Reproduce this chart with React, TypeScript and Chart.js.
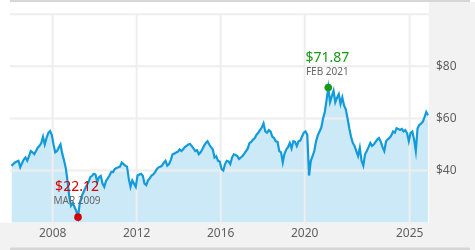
import { useEffect, useRef } from "react";
import { Chart, registerables } from "chart.js";

Chart.register(...registerables);

// ---- data ----
const startYear = 2006; // first month: Jan 2006
const monthlyClose: number[] = [
  41.8, 42.5, 43.1, 43.5, 43.8, 41.3, 42.8, 44.2, 45, 43.8, 45.5, 47.5, // 2006
  47, 46.3, 47.5, 48.8, 49.5, 50.6, 53, 50, 52.5, 54.4, 55.2, 53.7, // 2007
  50, 47, 47.5, 48.8, 50, 46.5, 44, 41, 36, 30, 26.5, 27.5, // 2008
  26, 24.5, 22.12, 27.5, 30, 31.5, 33, 34.4, 35.5, 37.5, 38, 38.75, // 2009
  38.5, 35.6, 37.5, 38, 35, 33.75, 36, 37, 38.1, 39.5, 39.4, 40.6, // 2010
  41, 41.3, 41.5, 43.1, 42.5, 41.9, 41.5, 36.9, 33.75, 36.25, 35, 33.75, // 2011
  38.1, 38.5, 38.75, 38, 35, 34.4, 36.25, 37, 38.1, 38.5, 39.4, 40.5, // 2012
  41.25, 41.5, 41.9, 43, 43.75, 41.9, 42.5, 44, 46.25, 46.5, 46.9, 47.2, // 2013
  48.1, 47.5, 48.1, 49, 49.5, 50, 50.2, 49.4, 48.5, 47.5, 47.8, 46.25, // 2014
  47, 48.1, 49.5, 50.6, 51.25, 50, 49, 48.1, 45, 45.5, 43.75, 43.5, // 2015
  40.6, 40, 42.5, 43.75, 43.5, 42.5, 45, 46.25, 46, 45.6, 44.4, 45, // 2016
  45.6, 46.5, 47.5, 48.5, 50.6, 51, 51.9, 52.5, 53.75, 54.5, 55.6, 56.5, // 2017
  58.1, 55, 54.5, 55.5, 55, 53, 52.5, 51.25, 51, 47.5, 47, 43.1, // 2018
  46.5, 48.1, 49, 50.6, 48.5, 51.25, 51, 49.4, 51.25, 51.5, 53.1, 54.5, // 2019
  55, 53.75, 38.1, 43.75, 45.5, 47.5, 51.25, 53.5, 55, 56.5, 60, 62.5, // 2020
  67, 71.87, 66.25, 68.5, 70.6, 66.25, 68, 69.4, 65.6, 68.1, 65, 63.5, // 2021
  60, 56.25, 53, 50.6, 49.4, 47.5, 45.6, 48.75, 43.75, 41.9, 46.25, 47.5, // 2022
  49, 50.6, 49.5, 50, 51, 51.9, 52.5, 51, 49, 47.5, 51.25, 52, // 2023
  52.5, 53.5, 55, 54.5, 56.25, 56, 55.6, 56, 55, 55.5, 54.4, 51.25, // 2024
  54.4, 55, 52, 47.5, 56.25, 57.5, 58, 58.75, 60.5, 62.5, 61.25, // 2025
];

const xTickYears = [2008, 2012, 2016, 2020, 2025];
const yTickValues = [40, 60, 80];
const yGridValues = [40, 60, 80, 100];

const markerYears = [2009, 2021];
const markerMonths = [3, 2]; // 1-based
const markerValues = [22.12, 71.87];
const markerPriceLabels = ["$22.12", "$71.87"];
const markerDateLabels = ["MAR 2009", "FEB 2021"];
const markerColors = ["#d40000", "#169a16"];

const FONT = '"Noto Sans", "DejaVu Sans", sans-serif';
const W = 475;
const H = 250;

export default function App() {
  const ref = useRef<HTMLCanvasElement>(null);

  useEffect(() => {
    if (!ref.current) return;
    const points = monthlyClose.map((v, i) => ({ x: startYear + (i + 0.5) / 12, y: v }));
    const markers = markerValues.map((v, i) => ({
      x: markerYears[i] + (markerMonths[i] - 0.5) / 12,
      y: v,
    }));

    const bgPlugin = {
      id: "bgPanels",
      beforeDraw(chart: any) {
        const ctx = chart.ctx;
        const a = chart.chartArea;
        ctx.save();
        ctx.fillStyle = "#ffffff";
        ctx.fillRect(0, 0, W, H);
        ctx.fillStyle = "#f2f2f2";
        ctx.fillRect(a.right, 2, W - a.right, H - 2);
        ctx.fillRect(0, a.bottom, W, H - a.bottom);
        ctx.fillStyle = "#d6d6d6";
        ctx.fillRect(10, 0, 460, 2);
        ctx.fillRect(10, 247.5, 460, 2.5);
        ctx.restore();
      },
    };

    const gridPlugin = {
      id: "gridOverFill",
      afterDatasetDraw(chart: any, args: any) {
        if (args.index !== 0) return;
        const ctx = chart.ctx;
        const a = chart.chartArea;
        const xs = chart.scales.x;
        const ys = chart.scales.y;
        ctx.save();
        ctx.strokeStyle = "#eeeeee";
        ctx.lineWidth = 2;
        ctx.beginPath();
        yGridValues.forEach((v) => {
          const py = ys.getPixelForValue(v);
          ctx.moveTo(a.left, py);
          ctx.lineTo(a.right, py);
        });
        xTickYears.forEach((v) => {
          const px = xs.getPixelForValue(v);
          ctx.moveTo(px, a.top);
          ctx.lineTo(px, a.bottom);
        });
        ctx.stroke();
        ctx.restore();
      },
    };

    const labelPlugin = {
      id: "markerLabels",
      afterDraw(chart: any) {
        const ctx = chart.ctx;
        const xs = chart.scales.x;
        const ys = chart.scales.y;
        ctx.save();
        ctx.textAlign = "center";
        ctx.textBaseline = "alphabetic";
        markers.forEach((m, i) => {
          const px = xs.getPixelForValue(m.x) - 1;
          const py = ys.getPixelForValue(m.y);
          ctx.font = `14px ${FONT}`;
          ctx.fillStyle = markerColors[i];
          ctx.fillText(markerPriceLabels[i], px, py - 26);
          ctx.font = `10px ${FONT}`;
          ctx.fillStyle = "#666666";
          ctx.fillText(markerDateLabels[i], px, py - 13);
        });
        ctx.restore();
      },
    };

    const chart = new Chart(ref.current, {
      type: "line",
      data: {
        datasets: [
          {
            data: points,
            borderWidth: 0,
            borderColor: "rgba(0,0,0,0)",
            backgroundColor: "#cce9f7",
            fill: "start",
            pointRadius: 0,
            tension: 0,
            order: 3,
          },
          {
            data: points,
            borderWidth: 2.2,
            borderColor: "#129bdb",
            fill: false,
            pointRadius: 0,
            tension: 0,
            order: 2,
          },
          {
            type: "scatter",
            data: markers,
            pointRadius: 3.8,
            pointBorderWidth: 0,
            pointBackgroundColor: markerColors,
            backgroundColor: markerColors,
            order: 1,
          } as any,
        ],
      },
      options: {
        responsive: false,
        animation: false,
        events: [],
        layout: { padding: { left: 10, top: 10, right: 0, bottom: 0 } },
        plugins: { legend: { display: false }, tooltip: { enabled: false } },
        scales: {
          x: {
            type: "linear",
            min: 2005.97,
            max: 2025.92,
            grid: { display: false, drawTicks: false },
            border: { display: false },
            afterBuildTicks: (s: any) => {
              s.ticks = xTickYears.map((v) => ({ value: v }));
            },
            afterFit: (s: any) => {
              s.height = 27.3;
            },
            ticks: {
              autoSkip: false,
              maxRotation: 0,
              padding: 4,
              color: "#5f5f5f",
              font: { family: FONT, size: 12 },
              callback: (v: any) => String(v),
            },
          },
          y: {
            position: "right",
            min: 20,
            max: 100,
            grid: { display: false, drawTicks: false },
            border: { display: false },
            afterBuildTicks: (s: any) => {
              s.ticks = yTickValues.map((v) => ({ value: v }));
            },
            afterFit: (s: any) => {
              s.width = 46;
            },
            ticks: {
              padding: 7,
              color: "#5f5f5f",
              font: { family: FONT, size: 12 },
              callback: (v: any) => "$" + v,
            },
          },
        },
      },
      plugins: [bgPlugin, gridPlugin, labelPlugin],
    });

    return () => chart.destroy();
  }, []);

  return (
    <div style={{ position: "fixed", left: 0, top: 0, width: W, height: H }}>
      <canvas ref={ref} width={W} height={H} style={{ display: "block" }} />
    </div>
  );
}
